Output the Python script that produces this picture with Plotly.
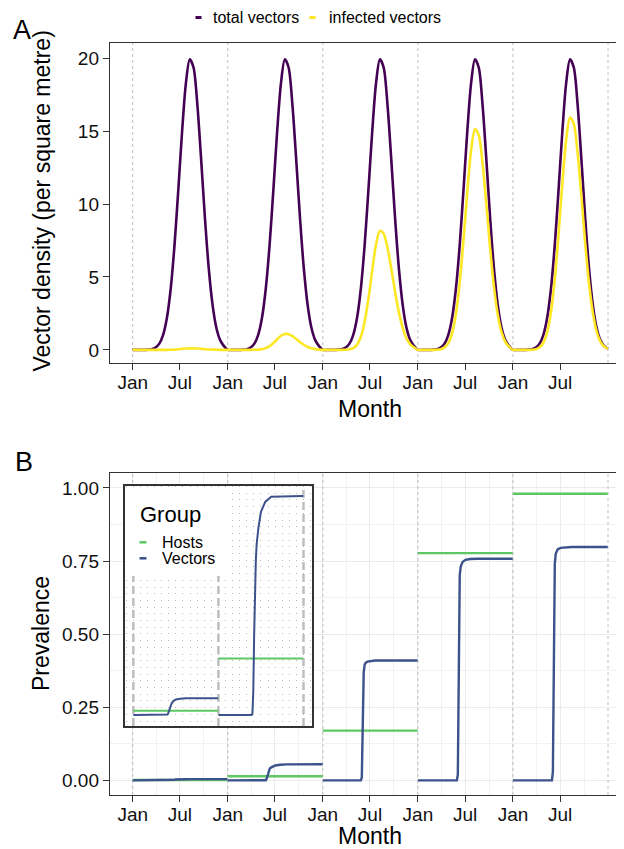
import plotly.graph_objects as go

# ---------------- data ----------------
year_starts = [0, 1, 2, 3, 4]          # Jan 1 of each simulated year (in years)
season_offsets = [0.00, 0.04, 0.08, 0.12, 0.16, 0.20, 0.24, 0.28, 0.32, 0.36,
                  0.40, 0.44, 0.48, 0.52, 0.56, 0.60, 0.64, 0.68, 0.72, 0.76,
                  0.80, 0.84, 0.88, 0.92, 0.96]

total_vectors = [
    [0.0, 0.0, 0.0, 0.0, 0.02, 0.05, 0.16, 0.43, 1.03, 2.20, 4.21, 7.20, 11.01, 15.03, 18.31, 19.93, 19.37, 16.82, 13.05, 9.03, 5.59, 3.09, 1.52, 0.67, 0.26],
    [0.0, 0.0, 0.0, 0.0, 0.02, 0.05, 0.16, 0.43, 1.03, 2.20, 4.21, 7.20, 11.01, 15.03, 18.31, 19.93, 19.37, 16.82, 13.05, 9.03, 5.59, 3.09, 1.52, 0.67, 0.26],
    [0.0, 0.0, 0.0, 0.0, 0.02, 0.05, 0.16, 0.43, 1.03, 2.20, 4.21, 7.20, 11.01, 15.03, 18.31, 19.93, 19.37, 16.82, 13.05, 9.03, 5.59, 3.09, 1.52, 0.67, 0.26],
    [0.0, 0.0, 0.0, 0.0, 0.02, 0.05, 0.16, 0.43, 1.03, 2.20, 4.21, 7.20, 11.01, 15.03, 18.31, 19.93, 19.37, 16.82, 13.05, 9.03, 5.59, 3.09, 1.52, 0.67, 0.26],
    [0.0, 0.0, 0.0, 0.0, 0.02, 0.05, 0.16, 0.43, 1.03, 2.20, 4.21, 7.20, 11.01, 15.03, 18.31, 19.93, 19.37, 16.82, 13.05, 9.03, 5.59, 3.09, 1.52, 0.67, 0.26],
]
infected_vectors = [
    [0.0, 0.0, 0.0, 0.0, 0.0, 0.0, 0.0, 0.0, 0.0, 0.0, 0.01, 0.02, 0.04, 0.07, 0.09, 0.10, 0.10, 0.09, 0.07, 0.05, 0.03, 0.02, 0.01, 0.0, 0.0],
    [0.0, 0.0, 0.0, 0.0, 0.0, 0.0, 0.0, 0.01, 0.02, 0.05, 0.12, 0.26, 0.47, 0.73, 0.97, 1.09, 1.07, 0.94, 0.75, 0.54, 0.35, 0.20, 0.11, 0.05, 0.02],
    [0.0, 0.0, 0.0, 0.0, 0.0, 0.0, 0.01, 0.04, 0.12, 0.36, 0.90, 1.93, 3.52, 5.47, 7.24, 8.16, 7.97, 7.01, 5.57, 3.99, 2.58, 1.51, 0.79, 0.38, 0.16],
    [0.0, 0.0, 0.0, 0.0, 0.0, 0.01, 0.05, 0.17, 0.47, 1.15, 2.46, 4.61, 7.56, 10.88, 13.71, 15.14, 14.73, 12.83, 9.99, 6.96, 4.34, 2.42, 1.21, 0.54, 0.22],
    [0.0, 0.0, 0.0, 0.0, 0.0, 0.01, 0.05, 0.18, 0.49, 1.21, 2.59, 4.85, 7.96, 11.45, 14.43, 15.94, 15.50, 13.50, 10.52, 7.33, 4.57, 2.55, 1.27, 0.57, 0.23],
]
final_total = 0.09
final_infected = 0.07

host_prevalence = [0.0011, 0.0142, 0.170, 0.777, 0.980]
vector_offsets = [0.0, 0.39, 0.40, 0.41, 0.42, 0.43, 0.44, 0.45, 0.47, 0.50, 0.55, 0.62, 0.997]
vector_prevalence = [
    [0, 0, 0.0001, 0.0004, 0.0010, 0.0017, 0.0024, 0.0029, 0.0035, 0.0039, 0.0041, 0.0042, 0.0042],
    [0, 0, 0.0005, 0.006, 0.020, 0.033, 0.039, 0.043, 0.047, 0.051, 0.0535, 0.0548, 0.055],
    [0, 0, 0, 0.01, 0.22, 0.37, 0.395, 0.402, 0.406, 0.408, 0.41, 0.41, 0.41],
    [0, 0, 0, 0, 0.02, 0.50, 0.70, 0.73, 0.747, 0.754, 0.757, 0.758, 0.758],
    [0, 0, 0, 0, 0.03, 0.50, 0.74, 0.775, 0.79, 0.795, 0.797, 0.798, 0.798],
]
inset_years = 2

month_names = ["Jan", "Jul"]
month_fracs = [0.0, 0.496]
density_ticks = [0, 5, 10, 15, 20]
prev_ticks = [0, 0.25, 0.5, 0.75, 1.0]
prev_labels = ["0.00", "0.25", "0.50", "0.75", "1.00"]

# ---------------- build series ----------------
tA, yT, yI = [], [], []
for i, y0 in enumerate(year_starts):
    for o, vt, vi in zip(season_offsets, total_vectors[i], infected_vectors[i]):
        tA.append(y0 + o); yT.append(vt); yI.append(vi)
tA.append(year_starts[-1] + 1); yT.append(final_total); yI.append(final_infected)


def host_series(n):
    xs, ys = [], []
    for i in range(n):
        y0 = year_starts[i]
        xs += [y0, y0 + vector_offsets[-1], None]
        ys += [host_prevalence[i], host_prevalence[i], None]
    return xs, ys


def vec_series(n):
    xs, ys = [], []
    for i in range(n):
        y0 = year_starts[i]
        xs += [y0 + o for o in vector_offsets] + [None]
        ys += list(vector_prevalence[i]) + [None]
    return xs, ys


tick_vals = [y0 + f for y0 in year_starts for f in month_fracs]
tick_text = [m for _ in year_starts for m in month_names]
minor_vals = [y0 + f for y0 in year_starts for f in (0.248, 0.748)]

PURPLE, YELLOW, GREEN, BLUE = "#440154", "#FDE725", "#5DC863", "#3B528B"
FONT = "Liberation Sans, Arial, Helvetica, sans-serif"
OFF = 8                      # the page body has an 8px default margin
W, H = 624 - OFF, 849 - OFF
AX = "#333333"


def px(x):
    return (x - OFF) / W


def py(y):
    return 1 - (y - OFF) / H


XR = [-0.2388, 5.168]
YA = [-0.9, 21.05]
YB = [-0.05, 1.05]
XI = [-0.098, 2.10]
YI = [-0.00276, 0.0575]


def frac(r, f):
    return r[0] + f * (r[1] - r[0])


fig = go.Figure()
# Panel A
fig.add_trace(go.Scatter(x=tA, y=yT, mode="lines", line=dict(color=PURPLE, width=2.6, shape="spline", smoothing=0.8),
                         xaxis="x", yaxis="y", showlegend=False, hoverinfo="skip"))
fig.add_trace(go.Scatter(x=tA, y=yI, mode="lines", line=dict(color=YELLOW, width=2.6, shape="spline", smoothing=0.8),
                         xaxis="x", yaxis="y", showlegend=False, hoverinfo="skip"))
# Panel B
hx, hy = host_series(len(year_starts))
vx, vy = vec_series(len(year_starts))
fig.add_trace(go.Scatter(x=hx, y=hy, mode="lines", line=dict(color=GREEN, width=2.4),
                         xaxis="x2", yaxis="y2", showlegend=False, hoverinfo="skip"))
fig.add_trace(go.Scatter(x=vx, y=vy, mode="lines", line=dict(color=BLUE, width=2.4),
                         xaxis="x2", yaxis="y2", showlegend=False, hoverinfo="skip"))
# Inset (first two years)
ihx, ihy = host_series(inset_years)
ivx, ivy = vec_series(inset_years)
fig.add_trace(go.Scatter(x=ihx, y=ihy, mode="lines", line=dict(color=GREEN, width=2.0),
                         xaxis="x3", yaxis="y3", showlegend=False, hoverinfo="skip"))
fig.add_trace(go.Scatter(x=ivx, y=ivy, mode="lines", line=dict(color=BLUE, width=2.0),
                         xaxis="x3", yaxis="y3", showlegend=False, hoverinfo="skip"))

tickfont = dict(family=FONT, size=19, color="#111111")
common_x = dict(tickmode="array", tickvals=tick_vals, ticktext=tick_text, ticks="outside", ticklen=6,
                tickwidth=1.4, tickcolor=AX, showline=True, linecolor=AX, linewidth=1.4, mirror=True,
                zeroline=False, tickfont=tickfont, range=XR, domain=[px(110), 1], ticklabelstandoff=-4)

shapes = []
for k in range(6):
    shapes.append(dict(type="line", xref="x", yref="y", x0=k, x1=k, y0=YA[0], y1=YA[1],
                       line=dict(color="#BDBDBD", width=1, dash="dot"), layer="between"))
    shapes.append(dict(type="line", xref="x2", yref="y2", x0=k, x1=k, y0=YB[0], y1=YB[1],
                       line=dict(color="#BDBDBD", width=1, dash="dot"), layer="between"))
# inset legend background
shapes.append(dict(type="rect", xref="x3", yref="y3", x0=frac(XI, 0.004), x1=frac(XI, 0.55),
                   y0=frac(YI, 0.625), y1=frac(YI, 0.996),
                   fillcolor="white", line=dict(width=0), layer="between"))
for k in range(3):
    shapes.append(dict(type="line", xref="x3", yref="y3", x0=k, x1=k, y0=YI[0],
                       y1=(YI[1] if k == 2 else frac(YI, 0.625)),
                       line=dict(color="#BEBEBE", width=2.5, dash="8px,4px"), layer="between"))
# legend keys
shapes.append(dict(type="line", xref="paper", yref="paper", x0=px(195.5), x1=px(201.5), y0=py(17.5), y1=py(17.5),
                   line=dict(color=PURPLE, width=3), layer="above"))
shapes.append(dict(type="line", xref="paper", yref="paper", x0=px(309.5), x1=px(315.5), y0=py(17.5), y1=py(17.5),
                   line=dict(color=YELLOW, width=3), layer="above"))
shapes.append(dict(type="line", xref="paper", yref="paper", x0=px(139.5), x1=px(146.5), y0=py(542.3), y1=py(542.3),
                   line=dict(color=GREEN, width=2.5), layer="above"))
shapes.append(dict(type="line", xref="paper", yref="paper", x0=px(139.5), x1=px(146.5), y0=py(558.3), y1=py(558.3),
                   line=dict(color=BLUE, width=2.5), layer="above"))


def ann(text, x, y, size, xanchor="left", angle=0):
    return dict(text=text, x=px(x), y=py(y), xref="paper", yref="paper", showarrow=False,
                xanchor=xanchor, yanchor="middle", textangle=angle,
                font=dict(family=FONT, size=size, color="#000000"))


annotations = [
    ann("A", 11, 30, 27),
    ann("B", 13, 462, 27),
    ann("total vectors", 210.5, 18, 16),
    ann("infected vectors", 326.5, 18, 16),
    ann("Month", 370, 409, 23, "center"),
    ann("Month", 370, 835.5, 23, "center"),
    ann("Vector density (per square metre)", 41.5, 201, 23, "center", -90),
    ann("Prevalence", 41, 634, 23, "center", -90),
    ann("Group", 137.5, 514, 22),
    ann("Hosts", 160, 542.5, 16),
    ann("Vectors", 160, 558.5, 16),
]

fig.update_layout(
    width=W, height=H, autosize=False,
    margin=dict(l=0, r=0, t=0, b=0),
    paper_bgcolor="white", plot_bgcolor="white",
    font=dict(family=FONT, color="#000000"),
    showlegend=False,
    xaxis=dict(common_x, anchor="y", showgrid=False),
    yaxis=dict(domain=[py(363), py(43)], range=YA, tickmode="array", tickvals=density_ticks,
               ticks="outside", ticklen=6, tickwidth=1.4, tickcolor=AX, showline=True, linecolor=AX,
               linewidth=1.4, mirror=False, zeroline=False, showgrid=False, tickfont=tickfont, anchor="x"),
    xaxis2=dict(common_x, anchor="y2", showgrid=True, gridcolor="#EBEBEB", gridwidth=1.4,
                minor=dict(tickvals=minor_vals, showgrid=True, gridcolor="#F2F2F2", gridwidth=0.8, ticks="")),
    yaxis2=dict(domain=[py(795), py(473.3)], range=YB, tickmode="array", tickvals=prev_ticks,
                ticktext=prev_labels, ticks="outside", ticklen=6, tickwidth=1.4, tickcolor=AX, showline=True,
                linecolor=AX, linewidth=1.4, mirror=False, zeroline=False, showgrid=True, gridcolor="#EBEBEB",
                gridwidth=1.4, tickfont=tickfont, anchor="x2",
                minor=dict(tickvals=[0.125, 0.375, 0.625, 0.875], showgrid=True, gridcolor="#F2F2F2",
                           gridwidth=0.8, ticks="")),
    xaxis3=dict(domain=[px(125), px(312)], range=XI, anchor="y3", showticklabels=False, ticks="",
                tickmode="linear", tick0=0, dtick=1 / 12, showgrid=True, gridcolor="#B8B8B8", gridwidth=1.1,
                griddash="1px,5.7px", showline=True, linecolor=AX, linewidth=1.6, mirror=True, zeroline=False),
    yaxis3=dict(domain=[py(726), py(486)], range=YI, anchor="x3", showticklabels=False, ticks="",
                showgrid=False, showline=True, linecolor=AX, linewidth=1.6, mirror=True, zeroline=False),
    shapes=shapes,
    annotations=annotations,
)

fig.write_html("out.html")
